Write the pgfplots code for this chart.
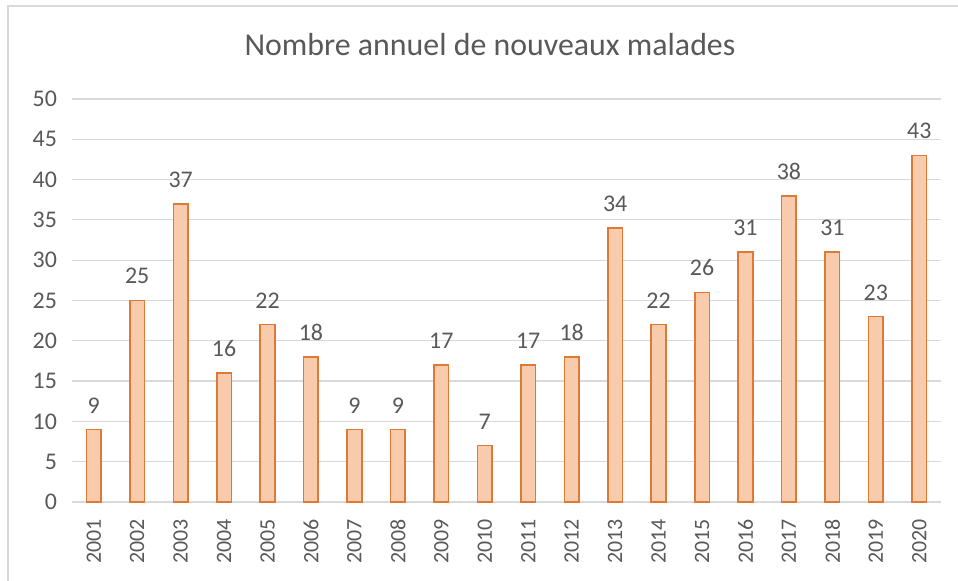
\documentclass[border=0pt]{standalone}
\usepackage{pgfplots}
\pgfplotsset{compat=1.18}
\usepackage{fontspec}
\setmainfont{Carlito}
\definecolor{barfill}{HTML}{F8CBAD}
\definecolor{barline}{HTML}{DE7A36}
\definecolor{txt}{HTML}{595959}
\definecolor{gridc}{HTML}{D9D9D9}
\begin{document}
\begin{tikzpicture}
\useasboundingbox (-36bp,-39.5bp) rectangle (443bp,251bp);
\fill[white] (-36bp,-39.5bp) rectangle (443bp,251bp);
\draw[gridc, line width=1.2bp] (-32bp,-45bp) -- (-32bp,248bp) -- (450bp,248bp);
\begin{axis}[
  at={(0,0)}, anchor=south west,
  scale only axis,
  width=434.5bp, height=201.5bp,
  xmin=-0.5, xmax=19.5,
  ymin=0, ymax=50,
  ytick={0,5,...,50},
  xtick={0,...,19},
  xticklabels={2001,2002,2003,2004,2005,2006,2007,2008,2009,2010,2011,2012,2013,2014,2015,2016,2017,2018,2019,2020},
  x tick label style={rotate=90, anchor=east, font=\fontsize{11}{13}\selectfont, text=txt, xshift=-5bp},
  y tick label style={font=\fontsize{12}{14}\selectfont, text=txt, xshift=-4bp},
  /pgf/number format/assume math mode=true,
  major tick length=0pt,
  axis line style={draw=none},
  xmajorgrids=false,
  ymajorgrids=true,
  major grid style={draw=gridc, line width=0.6bp},
  ybar, bar width=7.3bp,
  nodes near coords,
  every node near coord/.append style={font=\fontsize{12}{14}\selectfont, text=txt, yshift=4.5bp},
  clip=false,
]
\draw[gridc, line width=0.8bp] (axis cs:-0.5,0) -- (axis cs:19.5,0);
\addplot[fill=barfill, draw=barline, line width=0.8bp] coordinates {
(0,9) (1,25) (2,37) (3,16) (4,22) (5,18) (6,9) (7,9) (8,17) (9,7)
(10,17) (11,18) (12,34) (13,22) (14,26) (15,31) (16,38) (17,31) (18,23) (19,43)
};
\end{axis}
\node[text=txt, font=\fontsize{16}{19}\selectfont] at (209bp,228.5bp) {Nombre annuel de nouveaux malades};
\end{tikzpicture}
\end{document}
